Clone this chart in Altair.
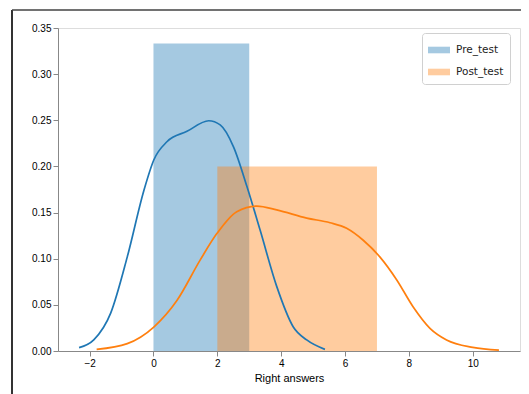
import altair as alt
import pandas as pd

# Histogram bins (density)
series = ["Pre_test", "Post_test"]
bin_left = [0, 2]
bin_right = [3, 7]
bin_density = [0.3333, 0.2]

# KDE curves
pre_x = [-2.33, -1.87, -1.34, -0.82, -0.30, 0.01, 0.43, 1.05, 1.73, 2.09, 2.51, 2.93, 3.34, 3.86, 4.38, 4.80, 5.37]
pre_y = [0.0036, 0.012, 0.041, 0.102, 0.174, 0.207, 0.227, 0.238, 0.2495, 0.245, 0.221, 0.178, 0.131, 0.070, 0.026, 0.012, 0.0018]

post_x = [-1.78, -0.82, 0.01, 0.74, 1.47, 1.99, 2.61, 3.24, 3.86, 4.80, 5.53, 6.05, 6.57, 7.09, 7.62, 8.13, 8.66, 9.18, 10.0, 10.82]
post_y = [0.0018, 0.008, 0.026, 0.055, 0.099, 0.1275, 0.151, 0.157, 0.153, 0.144, 0.139, 0.133, 0.120, 0.102, 0.077, 0.048, 0.0246, 0.012, 0.004, 0.001]

x_ticks = [-2, 0, 2, 4, 6, 8, 10]
y_ticks = [0.0, 0.05, 0.10, 0.15, 0.20, 0.25, 0.30, 0.35]

blue = "#1f77b4"
orange = "#ff7f0e"

bars = pd.DataFrame({"series": series, "x0": bin_left, "x1": bin_right, "d": bin_density})
pre = pd.DataFrame({"x": pre_x, "y": pre_y})
post = pd.DataFrame({"x": post_x, "y": post_y})

xscale = alt.Scale(domain=[-2.99, 11.48], nice=False, zero=False)
yscale = alt.Scale(domain=[0, 0.35], nice=False)
cscale = alt.Scale(domain=series, range=[blue, orange])

xaxis = alt.Axis(values=x_ticks, title="Right answers", format="d", grid=False, titleFontWeight=400)
yaxis = alt.Axis(values=y_ticks, title=None, format=".2f", grid=False)

legend = alt.Legend(
    title=None, orient="none", legendX=364, legendY=5,
    symbolType="M-1,-0.3H1V0.3H-1Z", symbolSize=484, symbolOpacity=0.4,
    symbolStrokeWidth=0, labelFontSize=10.5, labelColor="#222",
    labelFont="DejaVu Sans", padding=6, strokeColor="#d0d0d0",
    fillColor="white", cornerRadius=3, rowPadding=5, labelOffset=6,
)

bar_layer = alt.Chart(bars).mark_rect(opacity=0.4).encode(
    x=alt.X("x0:Q", scale=xscale, axis=xaxis),
    x2="x1:Q",
    y=alt.Y("d:Q", scale=yscale, axis=yaxis),
    y2=alt.datum(0),
    color=alt.Color("series:N", scale=cscale, legend=legend, sort=series),
    order=alt.Order("x0:Q"),
)

def line_layer(df, col):
    return alt.Chart(df).mark_line(color=col, strokeWidth=1.7, interpolate="monotone").encode(
        x=alt.X("x:Q", scale=xscale),
        y=alt.Y("y:Q", scale=yscale),
    )

frame_left = alt.Chart(bars).mark_rule(color="#333", strokeWidth=2, clip=False).encode(
    x=alt.value(-46), y=alt.value(-18), y2=alt.value(380))
frame_top = alt.Chart(bars).mark_rule(color="#444", strokeWidth=1.2, clip=False).encode(
    x=alt.value(-46), x2=alt.value(470), y=alt.value(-18))

chart = alt.layer(
    bar_layer,
    line_layer(pre, blue),
    line_layer(post, orange),
    frame_left,
    frame_top,
).properties(
    width=462, height=323,
    autosize=alt.AutoSizeParams(type="none"),
    padding={"left": 50, "top": 20, "right": 1, "bottom": 43},
).configure_view(
    stroke="#444", strokeWidth=1.2
).configure_axis(
    labelFont="DejaVu Sans", labelFontSize=10.5, labelColor="#222",
    titleFont="DejaVu Sans", titleFontSize=10.5, titleColor="#222", titleFontWeight=400,
    domainColor="#444", domainWidth=1.2, tickColor="#444", tickSize=4, tickWidth=1,
    labelPadding=3, titlePadding=3,
).configure(background="white")

chart.save("out.html", embed_options={"renderer": "svg", "actions": False})
